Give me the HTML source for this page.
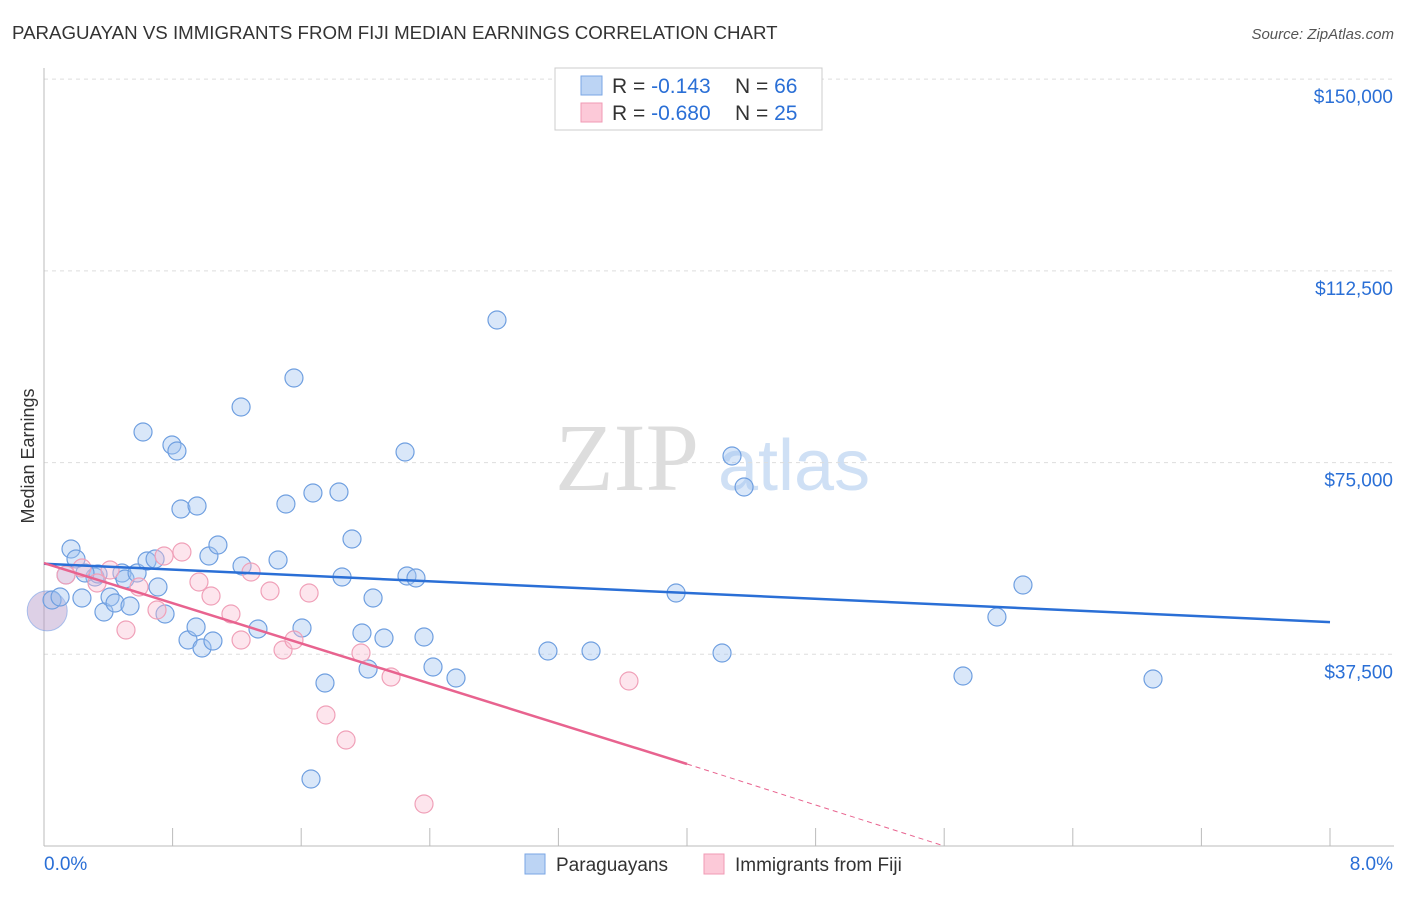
<!DOCTYPE html>
<html><head><meta charset="utf-8"><style>
body{margin:0;background:#fff;font-family:"Liberation Sans",sans-serif}
svg text{font-family:"Liberation Sans",sans-serif}
</style></head><body>
<svg id="c" width="1406" height="892">
<text x="12" y="39" font-size="18.7" fill="#333">PARAGUAYAN VS IMMIGRANTS FROM FIJI MEDIAN EARNINGS CORRELATION CHART</text>
<text x="1394" y="39" font-size="15" fill="#555" text-anchor="end" font-style="italic">Source: ZipAtlas.com</text>
<text x="34" y="456" font-size="18" fill="#333" text-anchor="middle" transform="rotate(-90 34 456)">Median Earnings</text>
<text x="555" y="490" font-size="96" fill="#ddd" style="font-family:'Liberation Serif',serif">ZIP</text>
<text x="718" y="490" font-size="72" fill="#cfe0f5">atlas</text>
<g id="grid"></g><g id="pts"></g><g id="lines"></g>
<g>
<rect x="555" y="68" width="267" height="62" fill="#fff" stroke="#ccc"/>
<rect x="581" y="76" width="21" height="19" fill="#bcd4f4" stroke="#7aa6e4"/>
<rect x="581" y="103" width="21" height="19" fill="#fcc9d8" stroke="#f09ab4"/>
<text x="612" y="93" font-size="21" fill="#333">R = <tspan fill="#2a6fd6"> -0.143</tspan><tspan x="735">N = </tspan><tspan fill="#2a6fd6">66</tspan></text>
<text x="612" y="120" font-size="21" fill="#333">R = <tspan fill="#2a6fd6">-0.680</tspan><tspan x="735">N = </tspan><tspan fill="#2a6fd6">25</tspan></text>
</g>
<g>
<rect x="525" y="854" width="20" height="20" fill="#bcd4f4" stroke="#7aa6e4"/>
<text x="556" y="871" font-size="19" fill="#333">Paraguayans</text>
<rect x="704" y="854" width="20" height="20" fill="#fcc9d8" stroke="#f09ab4"/>
<text x="735" y="871" font-size="19" fill="#333">Immigrants from Fiji</text>
</g>
</svg>
<script>
const yTicks=[37500,75000,112500,150000];
const yTickLabels=["$37,500","$75,000","$112,500","$150,000"];
const xTickLabels=["0.0%","8.0%"];
const bluePx=[[71,549],[76,559],[82,598],[95,577],[98,574],[104,612],[110,597],[115,603],[122,573],[125,579],[130,606],[137,573],[143,432],[147,561],[155,559],[158,587],[165,614],[172,445],[177,451],[181,509],[188,640],[197,506],[196,627],[202,648],[209,556],[213,641],[218,545],[241,407],[242,566],[258,629],[278,560],[286,504],[294,378],[302,628],[311,779],[313,493],[325,683],[339,492],[342,577],[352,539],[362,633],[368,669],[373,598],[384,638],[405,452],[407,576],[416,578],[424,637],[433,667],[456,678],[497,320],[548,651],[591,651],[676,593],[722,653],[732,456],[744,487],[963,676],[997,617],[1023,585],[1153,679],[52,600],[60,597],[66,575],[85,573]];
const pinkPx=[[66,575],[82,568],[97,583],[110,570],[126,630],[139,587],[157,610],[164,556],[182,552],[199,582],[211,596],[231,614],[241,640],[251,572],[270,591],[283,650],[294,640],[309,593],[326,715],[346,740],[361,653],[391,677],[424,804],[629,681]];
const blueX=bluePx.map(p=>+((p[0]-44)/160.75).toFixed(3));
const blueY=bluePx.map(p=>Math.round((846-p[1])*195.6));
const pinkX=pinkPx.map(p=>+((p[0]-44)/160.75).toFixed(3));
const pinkY=pinkPx.map(p=>Math.round((846-p[1])*195.6));
const blueTrend=[[0,55200],[8,43800]];
const pinkTrend=[[0,55350],[4,16040],[5.6,0]];
const X=v=>44+v*160.75, Y=v=>846-v/195.6;
const NS="http://www.w3.org/2000/svg";
function mk(t,a,p){const e=document.createElementNS(NS,t);for(const k in a)e.setAttribute(k,a[k]);p.appendChild(e);return e;}
const g=document.getElementById('grid');
yTicks.forEach((t,i)=>{
 const l=mk('line',{x1:44,x2:1394,y1:Y(t),y2:Y(t),stroke:'#ddd','stroke-dasharray':'4,4'},g);
 
 
 const tx=mk('text',{x:1393,y:Y(t)+24,'font-size':19,fill:'#2a6fd6','text-anchor':'end'},g);tx.textContent=yTickLabels[i];
 
 
});
mk('line',{x1:44,x2:44,y1:68,y2:846,stroke:'#bbb'},g);
mk('line',{x1:44,x2:1394,y1:846,y2:846,stroke:'#bbb'},g);
for(let i=0;i<=10;i++){mk('line',{x1:X(i*0.8),x2:X(i*0.8),y1:828,y2:846,stroke:'#bbb'},g);}
const xl=mk('text',{x:44,y:870,'font-size':19,fill:'#2a6fd6'},g);xl.textContent=xTickLabels[0];


const xr=mk('text',{x:1393,y:870,'font-size':19,fill:'#2a6fd6','text-anchor':'end'},g);xr.textContent=xTickLabels[1];


const pg=document.getElementById('pts');
mk('circle',{cx:X(0.02),cy:Y(46000),r:20,fill:'rgba(180,150,200,0.45)',stroke:'rgba(120,160,230,0.6)'},pg);
blueX.forEach((x,i)=>{const c=mk('circle',{cx:X(x),cy:Y(blueY[i]),r:9,fill:'rgba(160,195,240,0.4)',stroke:'#6f9fe0','stroke-width':1.2},pg);
 
 });
pinkX.forEach((x,i)=>{const c=mk('circle',{cx:X(x),cy:Y(pinkY[i]),r:9,fill:'rgba(250,190,210,0.4)',stroke:'#f0a0b8','stroke-width':1.2},pg);
 
 });
const lg=document.getElementById('lines');
const bl=mk('line',{x1:X(blueTrend[0][0]),y1:Y(blueTrend[0][1]),x2:X(blueTrend[1][0]),y2:Y(blueTrend[1][1]),stroke:'#2a6fd6','stroke-width':2.5},lg);


const pl=mk('line',{x1:X(pinkTrend[0][0]),y1:Y(pinkTrend[0][1]),x2:X(pinkTrend[1][0]),y2:Y(pinkTrend[1][1]),stroke:'#e8638f','stroke-width':2.5},lg);


const pd=mk('line',{x1:X(pinkTrend[1][0]),y1:Y(pinkTrend[1][1]),x2:X(pinkTrend[2][0]),y2:Y(pinkTrend[2][1]),stroke:'#e8638f','stroke-width':1,'stroke-dasharray':'5,4'},lg);


</script>
</body></html>
